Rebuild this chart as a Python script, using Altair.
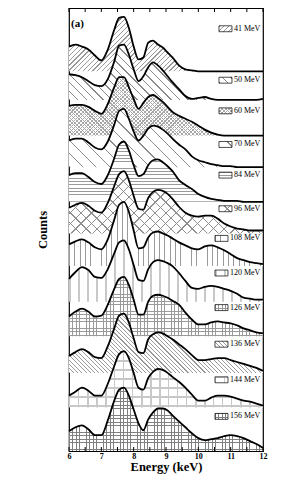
import math
import altair as alt
import pandas as pd

# ---------------- data ----------------
energy = [6.0, 6.2, 6.4, 6.6, 6.8, 7.0, 7.2, 7.4, 7.55, 7.7, 7.85, 8.0, 8.15, 8.3,
          8.45, 8.6, 8.75, 8.9, 9.05, 9.2, 9.4, 9.6, 9.8, 10.0, 10.2, 10.4, 10.6,
          10.8, 11.0, 11.2, 11.4, 11.6, 11.8, 12.0]

beams = ["41 MeV", "50 MeV", "60 MeV", "70 MeV", "84 MeV", "96 MeV",
         "108 MeV", "120 MeV", "126 MeV", "136 MeV", "144 MeV", "156 MeV"]

# vertical offset of each spectrum (counts, arbitrary units)
offsets = [384, 355, 319, 287, 252, 220, 187, 151, 116, 79, 44, 0]
# height (counts) of each legend entry
label_y = [427, 375, 344, 310, 279, 245, 215, 180, 145, 108, 72, 35]

c41 = [25, 27, 25, 22, 16, 11, 22, 42, 54, 55, 44, 25, 12, 14, 29, 31, 27, 24, 19, 14, 6, 2, 1,
       0, 0, 0, 0, 0, 0, 0, 0, 0, 0, 0]
c50 = [26, 25, 23, 19, 15, 14, 21, 39, 55, 56, 46, 31, 19, 24, 33, 38, 35, 30, 24, 18, 11, 4, 1,
       2, 3, 1, 0, 0, 0, 0, 0, 0, 0, 1]
c60 = [30, 31, 31, 29, 25, 22, 32, 49, 59, 59, 49, 37, 27, 33, 39, 41, 38, 34, 29, 24, 20, 17, 14,
       10, 6, 3, 1, 0, 0, 0, 0, 0, 0, 0]
c70 = [27, 29, 29, 25, 20, 18, 26, 43, 57, 59, 49, 36, 27, 32, 39, 42, 41, 38, 34, 29, 23, 18, 11,
       7, 5, 3, 2, 1, 1, 0, 0, 0, 0, 0]
c84 = [27, 29, 29, 25, 20, 18, 27, 44, 58, 61, 52, 37, 26, 28, 37, 42, 43, 40, 36, 31, 22, 17, 13,
       8, 5, 3, 2, 1, 1, 1, 0, 0, 0, 0]
c96 = [26, 29, 31, 28, 23, 21, 31, 48, 60, 63, 54, 38, 25, 24, 36, 42, 44, 43, 40, 35, 27, 21, 18,
       17, 18, 18, 15, 10, 7, 5, 4, 3, 3, 3]
c108 = [22, 25, 27, 24, 19, 17, 27, 47, 62, 65, 55, 36, 18, 19, 29, 34, 35, 33, 31, 28, 24, 21, 18,
        17, 20, 21, 19, 16, 12, 8, 6, 4, 3, 2]
c120 = [23, 30, 35, 32, 25, 24, 33, 49, 60, 62, 53, 37, 22, 21, 33, 40, 42, 41, 39, 36, 29, 21, 14,
        13, 15, 16, 15, 13, 11, 8, 4, 3, 2, 2]
c126 = [20, 25, 28, 25, 20, 21, 32, 48, 58, 60, 52, 37, 22, 22, 35, 41, 42, 41, 39, 36, 32, 24, 17,
        12, 12, 14, 15, 14, 13, 11, 8, 6, 4, 3]
c136 = [17, 21, 24, 21, 16, 15, 27, 45, 58, 60, 51, 35, 21, 20, 34, 39, 41, 40, 37, 34, 29, 24, 18,
        13, 13, 14, 15, 15, 13, 11, 9, 7, 5, 2]
c144 = [12, 16, 20, 17, 12, 12, 24, 42, 54, 57, 50, 35, 20, 18, 30, 36, 39, 38, 35, 31, 26, 20, 13,
        7, 7, 10, 12, 12, 11, 9, 7, 6, 4, 2]
c156 = [20, 24, 26, 22, 16, 16, 31, 51, 62, 64, 56, 42, 28, 21, 32, 39, 43, 43, 41, 36, 30, 24, 18,
        13, 11, 12, 13, 15, 16, 15, 13, 10, 7, 3]

spectra = [c41, c50, c60, c70, c84, c96, c108, c120, c126, c136, c144, c156]

x_ticks = [6, 7, 8, 9, 10, 11, 12]
minor_ticks = [6.0, 6.5, 7.0, 7.5, 8.0, 8.5, 9.0, 9.5, 10.0, 10.5, 11.0, 11.5, 12.0]

# ---------------- styles ----------------
PLOT_W, PLOT_H = 194, 443
Y_MAX = 448
SERIF = "Liberation Serif"
PX_PER_KEV = PLOT_W / 6.0
LEG_RIGHT = 11.92          # right edge of legend texts (keV)
LEG_FS = 8
LEG_BOX_W = 13             # px
LEG_GAP = 2                # px
LEG_H = 3


def text_width(s, fs=LEG_FS):
    w = 0.0
    for ch in s:
        if ch.isdigit():
            w += 0.5
        elif ch == " ":
            w += 0.25
        elif ch == "M":
            w += 0.889
        elif ch == "V":
            w += 0.722
        else:
            w += 0.444
    return w * fs


# hatch patterns: (direction, period px, line colour, line width px)
PATTERNS = [
    [("d1", 3.4, "#9a9a9a", 0.9)],
    [("d2", 6.0, "#8a8a8a", 0.9)],
    [("d1", 2.6, "#a8a8a8", 0.8), ("d2", 2.6, "#a8a8a8", 0.8)],
    [("d2", 9.5, "#8a8a8a", 0.9)],
    [("h", 3.3, "#9a9a9a", 0.9)],
    [("d1", 7.5, "#8f8f8f", 0.9), ("d2", 7.5, "#8f8f8f", 0.9)],
    [("v", 5.3, "#9a9a9a", 0.9)],
    [("v", 9.0, "#c8c8c8", 1.6)],
    [("v", 3.4, "#9a9a9a", 0.8), ("h", 3.4, "#9a9a9a", 0.8)],
    [("d2", 3.0, "#9a9a9a", 0.8)],
    [("v", 9.0, "#c8c8c8", 1.5), ("h", 9.0, "#c8c8c8", 1.5)],
    [("v", 3.4, "#808080", 0.8), ("h", 3.4, "#808080", 0.8)],
]

CLEAR = "rgba(255,255,255,0)"


def hatch(kind, period, W, H, color, bg, lw):
    if kind == "v":
        x1, y1, x2, y2, L = 0, 0, 1, 0, W
    elif kind == "h":
        x1, y1, x2, y2, L = 0, 0, 0, 1, H
    else:
        k = H / W
        a = (W + H) / (W * (1 + k * k))
        L = (W + H) / math.sqrt(2)
        if kind == "d1":
            x1, y1, x2, y2 = 0, 0, a, a * k
        else:
            x1, y1, x2, y2 = 0, 1, a, 1 - a * k
    n = L / period
    step = 1.0 / n
    wl = step * min(lw / period, 0.9)
    stops = []
    i = 0
    while i * step < 1:
        o = i * step
        e1 = min(o + wl, 1.0)
        e2 = min(o + step, 1.0)
        stops += [{"offset": round(o, 5), "color": color},
                  {"offset": round(e1, 5), "color": color},
                  {"offset": round(e1, 5), "color": bg},
                  {"offset": round(e2, 5), "color": bg}]
        i += 1
    return {"gradient": "linear", "x1": x1, "y1": y1, "x2": x2, "y2": y2,
            "stops": stops}


# ---------------- tables ----------------
rows = []
for b, off, cs in zip(beams, offsets, spectra):
    for e, c in zip(energy, cs):
        rows.append({"beam": b, "E": e, "value": off + c, "base": off})
df = pd.DataFrame(rows)

box_right = [LEG_RIGHT - (text_width(b) + LEG_GAP) / PX_PER_KEV for b in beams]
leg = pd.DataFrame({
    "beam": beams,
    "ly": label_y,
    "ly0": [v - LEG_H for v in label_y],
    "ly1": [v + LEG_H for v in label_y],
    "lx0": [r - LEG_BOX_W / PX_PER_KEV for r in box_right],
    "lx1": box_right,
    "tx": [LEG_RIGHT] * len(beams),
})
ticks_df = pd.DataFrame({"E": minor_ticks})

xscale = alt.Scale(domain=[6, 12], nice=False, zero=False)
yscale = alt.Scale(domain=[0, Y_MAX], nice=False, zero=False)
xaxis = alt.Axis(title="Energy (keV)", values=x_ticks, format="d", ticks=False,
                 domain=False, grid=False, labelPadding=1, labelFlush=False,
                 labelFont=SERIF, labelFontWeight="bold", labelFontSize=8,
                 labelColor="black", titleFont=SERIF, titleFontWeight="bold",
                 titleFontSize=12.5, titlePadding=0, titleColor="black")
yaxis = alt.Axis(title="Counts", labels=False, ticks=False, domain=False, grid=False,
                 titleFont=SERIF, titleFontWeight="bold", titleFontSize=12.5,
                 titlePadding=20, titleColor="black")

X = alt.X("E:Q", scale=xscale, axis=xaxis)
Y = alt.Y("value:Q", scale=yscale, axis=yaxis)

layers = []
base_chart = alt.Chart(df)
leg_chart = alt.Chart(leg)
for i, b in enumerate(beams):
    H = max(spectra[i]) * PLOT_H / Y_MAX
    comps = PATTERNS[i]
    for j, (kind, per, col, lw) in enumerate(comps):
        bg = "white" if j == 0 else CLEAR
        g = hatch(kind, per, PLOT_W, H, col, bg, lw)
        layers.append(
            base_chart.transform_filter(alt.datum.beam == b)
            .mark_area(fill=g, interpolate="monotone")
            .encode(x=X, y=Y, y2="base:Q")
        )
    # legend swatch
    for j, (kind, per, col, lw) in enumerate(comps):
        bg = "white" if j == 0 else CLEAR
        g = hatch(kind, per, LEG_BOX_W, 2 * LEG_H, col, bg, lw)
        props = dict(fill=g)
        if j == len(comps) - 1:
            props.update(stroke="black", strokeWidth=0.7)
        layers.append(
            leg_chart.transform_filter(alt.datum.beam == b)
            .mark_rect(**props)
            .encode(x=alt.X("lx0:Q", scale=xscale, axis=xaxis), x2="lx1:Q",
                    y=alt.Y("ly0:Q", scale=yscale, axis=yaxis), y2="ly1:Q")
        )

lines = base_chart.mark_line(color="black", strokeWidth=1.8, interpolate="monotone").encode(
    x=X, y=Y, detail="beam:N")

texts = leg_chart.mark_text(align="right", baseline="middle", font=SERIF, fontSize=LEG_FS,
                            color="black").encode(
    x=alt.X("tx:Q", scale=xscale, axis=xaxis),
    y=alt.Y("ly:Q", scale=yscale, axis=yaxis),
    text="beam:N")

top_ticks = alt.Chart(ticks_df).mark_rule(color="black", strokeWidth=1).encode(
    x=alt.X("E:Q", scale=xscale, axis=xaxis), y=alt.value(0), y2=alt.value(4))
bot_ticks = alt.Chart(ticks_df).mark_rule(color="black", strokeWidth=1).encode(
    x=alt.X("E:Q", scale=xscale, axis=xaxis), y=alt.value(PLOT_H), y2=alt.value(PLOT_H - 4))

panel_label = alt.Chart(pd.DataFrame({"t": ["(a)"]})).mark_text(
    align="left", baseline="middle", font=SERIF, fontWeight="bold", fontSize=11,
    color="black").encode(x=alt.value(2), y=alt.value(16), text="t:N")

chart = alt.layer(*layers, lines, texts, top_ticks, bot_ticks, panel_label).properties(
    width=PLOT_W, height=PLOT_H,
    autosize=alt.AutoSizeParams(type="none"),
    padding={"left": 61, "top": 0, "right": 15, "bottom": 23},
).configure_view(stroke="black", strokeWidth=1.2)

chart.save("out.html", embed_options={"renderer": "svg", "actions": False})
